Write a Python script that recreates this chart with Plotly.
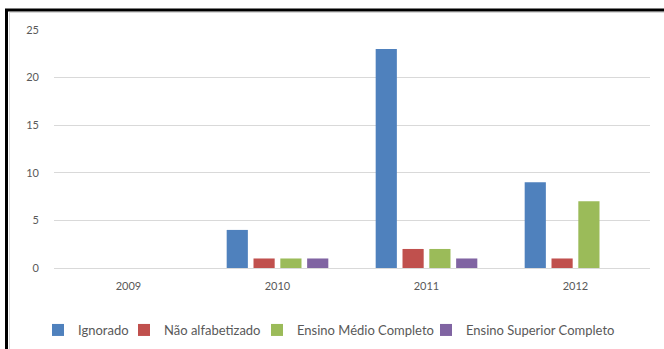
import plotly.graph_objects as go

years = ["2009", "2010", "2011", "2012"]
series_names = ["Ignorado", "Não alfabetizado", "Ensino Médio Completo", "Ensino Superior Completo"]
ignorado = [0, 4, 23, 9]
nao_alfabetizado = [0, 1, 2, 1]
ensino_medio = [0, 1, 2, 7]
ensino_superior = [0, 1, 1, 0]
colors = ["#4F81BD", "#C0504D", "#9BBB59", "#8064A2"]
y_ticks = [0, 5, 10, 15, 20, 25]

W, H = 664, 349
L, R, T, B = 54, 14, 30, 81
pw, ph = W - L - R, H - T - B

def px2x(px):
    return (px - L) / pw

def py2y(py):
    return (H - B - py) / ph

legend_ids = ["legend", "legend2", "legend3", "legend4"]
legend_text_px = [78, 164, 297, 466]

fig = go.Figure()
for name, vals, c, lid in zip(series_names, [ignorado, nao_alfabetizado, ensino_medio, ensino_superior], colors, legend_ids):
    fig.add_trace(go.Bar(x=years, y=vals, name=name, legend=lid,
                         marker=dict(color=c, line=dict(width=0))))

shapes = [
    dict(type="line", xref="paper", yref="paper", x0=px2x(6.5), x1=px2x(6.5), y0=py2y(10), y1=py2y(352), line=dict(color="black", width=3)),
    dict(type="line", xref="paper", yref="paper", x0=px2x(5), x1=px2x(668), y0=py2y(10), y1=py2y(10), line=dict(color="black", width=3)),
    dict(type="line", xref="paper", yref="paper", x0=px2x(9), x1=px2x(668), y0=py2y(12.5), y1=py2y(12.5), line=dict(color="#d8d8d8", width=1)),
    dict(type="line", xref="paper", yref="paper", x0=px2x(9.5), x1=px2x(9.5), y0=py2y(12.5), y1=py2y(352), line=dict(color="#d8d8d8", width=1)),
]

layout_legends = {}
for lid, tx in zip(legend_ids, legend_text_px):
    layout_legends[lid] = dict(orientation="h", x=px2x(tx - 40), xanchor="left", y=py2y(330), yanchor="middle",
                               font=dict(size=13, color="#595959"), itemwidth=30, bgcolor="rgba(0,0,0,0)")

fig.update_layout(
    width=W, height=H,
    margin=dict(l=L, r=R, t=T, b=B, autoexpand=False),
    paper_bgcolor="white", plot_bgcolor="white",
    barmode="group", bargap=0.28, bargroupgap=0.21,
    font=dict(family="Lato, Carlito, Calibri, sans-serif", size=11, color="#595959"),
    xaxis=dict(showgrid=False, showline=False, ticks="", ticklabelstandoff=10,
               tickfont=dict(size=11, color="#595959")),
    yaxis=dict(range=[0, 25], tickvals=y_ticks, showgrid=True, gridcolor="#d9d9d9", gridwidth=1,
               zeroline=True, zerolinecolor="#d9d9d9", zerolinewidth=1, showline=False, ticks="",
               ticklabelstandoff=14, tickfont=dict(size=11, color="#595959")),
    shapes=shapes,
    showlegend=True,
    **layout_legends,
)

fig.write_html("out.html")
